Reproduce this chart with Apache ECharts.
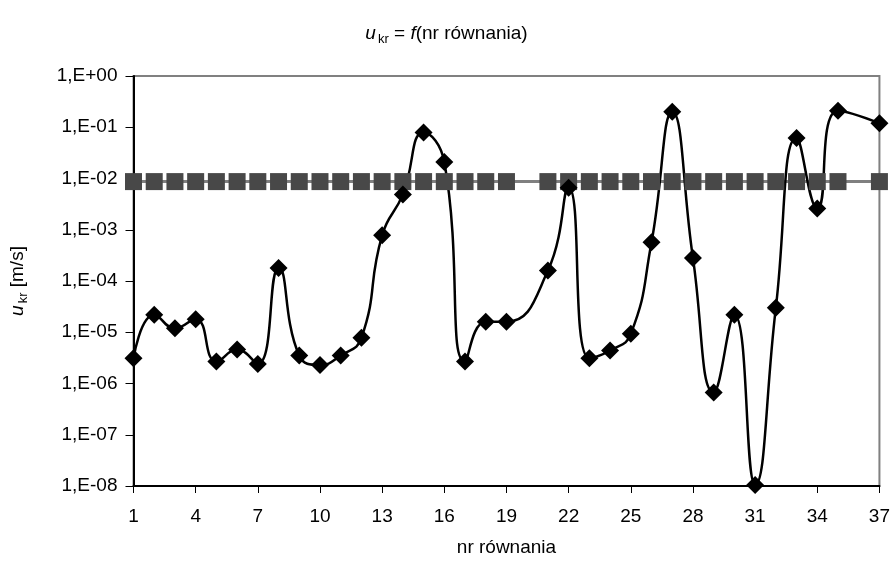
<!DOCTYPE html>
<html>
<head>
<meta charset="utf-8">
<script src="https://cdn.jsdelivr.net/npm/echarts@6/dist/echarts.min.js"></script>
<style>
  html, body { margin: 0; padding: 0; background: #fff; }
  #chart { width: 893px; height: 562px; }
</style>
</head>
<body>
<div id="chart"></div>
<script>
// nr równania
const categories = ['1', '2', '3', '4', '5', '6', '7', '8', '9', '10',
  '11', '12', '13', '14', '15', '16', '17', '18', '19', '20',
  '21', '22', '23', '24', '25', '26', '27', '28', '29', '30',
  '31', '32', '33', '34', '35', '36', '37'];

// u_kr [m/s]
const uKr = [3.1e-6, 2.2e-5, 1.2e-5, 1.8e-5, 2.7e-6, 4.6e-6, 2.4e-6, 1.8e-4, 3.5e-6, 2.3e-6,
  3.5e-6, 7.8e-6, 7.8e-4, 4.9e-3, 0.079, 0.021, 2.7e-6, 1.6e-5, 1.6e-5, null,
  1.6e-4, 6.6e-3, 3.1e-6, 4.4e-6, 9.3e-6, 5.7e-4, 0.2, 2.8e-4, 6.7e-7, 2.2e-5,
  1.05e-8, 3.0e-5, 0.062, 2.6e-3, 0.21, null, 0.12];

// poziom odniesienia
const uLimit = [0.0087, 0.0087, 0.0087, 0.0087, 0.0087, 0.0087, 0.0087, 0.0087, 0.0087, 0.0087,
  0.0087, 0.0087, 0.0087, 0.0087, 0.0087, 0.0087, 0.0087, 0.0087, 0.0087, null,
  0.0087, 0.0087, 0.0087, 0.0087, 0.0087, 0.0087, 0.0087, 0.0087, 0.0087, 0.0087,
  0.0087, 0.0087, 0.0087, 0.0087, 0.0087, null, 0.0087];

const FONT = 'Liberation Sans';

const chart = echarts.init(document.getElementById('chart'));

function expLabel(v) {
  const e = Math.round(Math.log10(v));
  const a = Math.abs(e);
  return '1,E' + (e < 0 ? '-' : '+') + (a < 10 ? '0' : '') + a;
}

const richUkr = {
  i: { fontFamily: FONT, fontSize: 19, fontStyle: 'italic', fontWeight: 'normal', color: '#000', lineHeight: 24 },
  s: { fontFamily: FONT, fontSize: 13, fontWeight: 'normal', color: '#000', lineHeight: 24, verticalAlign: 'bottom', padding: [0, 0, 0, 2] },
  n: { fontFamily: FONT, fontSize: 19, fontWeight: 'normal', color: '#000', lineHeight: 24 }
};

const option = {
  animation: false,
  title: {
    text: '{i|u}{s|kr}{n| = }{i|f}{n|(nr równania)}',
    left: 'center',
    top: 17,
    textStyle: { fontWeight: 'normal', rich: richUkr }
  },
  grid: {
    left: 126,
    right: 10,
    top: 76,
    bottom: 74,
    show: true,
    borderColor: '#808080',
    borderWidth: 2
  },
  xAxis: {
    type: 'category',
    data: categories,
    boundaryGap: false,
    name: 'nr równania',
    nameLocation: 'middle',
    nameGap: 52,
    nameTextStyle: { fontFamily: FONT, fontSize: 19, color: '#000' },
    axisLine: { lineStyle: { color: '#000', width: 2 } },
    axisTick: { show: true, interval: 2, length: 7, lineStyle: { color: '#000', width: 1 } },
    axisLabel: { interval: 2, margin: 21, fontFamily: FONT, fontSize: 19, color: '#000' },
    splitLine: { show: false }
  },
  yAxis: {
    type: 'log',
    logBase: 10,
    min: 1e-8,
    max: 1,
    name: '{i|u}{s|kr}{n| [m/s]}',
    nameLocation: 'middle',
    nameGap: 104,
    nameTextStyle: { rich: richUkr },
    axisLine: { show: true, lineStyle: { color: '#000', width: 2 } },
    axisTick: { show: true, length: 8, lineStyle: { color: '#000', width: 1 } },
    axisLabel: { margin: 16, fontFamily: FONT, fontSize: 19, color: '#000', formatter: expLabel },
    splitLine: { show: false }
  },
  series: [
    {
      type: 'line',
      data: uLimit,
      connectNulls: true,
      showAllSymbol: true,
      symbol: 'rect',
      symbolSize: 17,
      itemStyle: { color: '#484848' },
      lineStyle: { color: '#808080', width: 3 }
    },
    {
      type: 'line',
      data: uKr,
      connectNulls: true,
      showAllSymbol: true,
      smooth: 0.5,
      symbol: 'diamond',
      symbolSize: 18,
      itemStyle: { color: '#000' },
      lineStyle: { color: '#000', width: 2.5 }
    }
  ]
};

chart.setOption(option);
</script>
</body>
</html>
